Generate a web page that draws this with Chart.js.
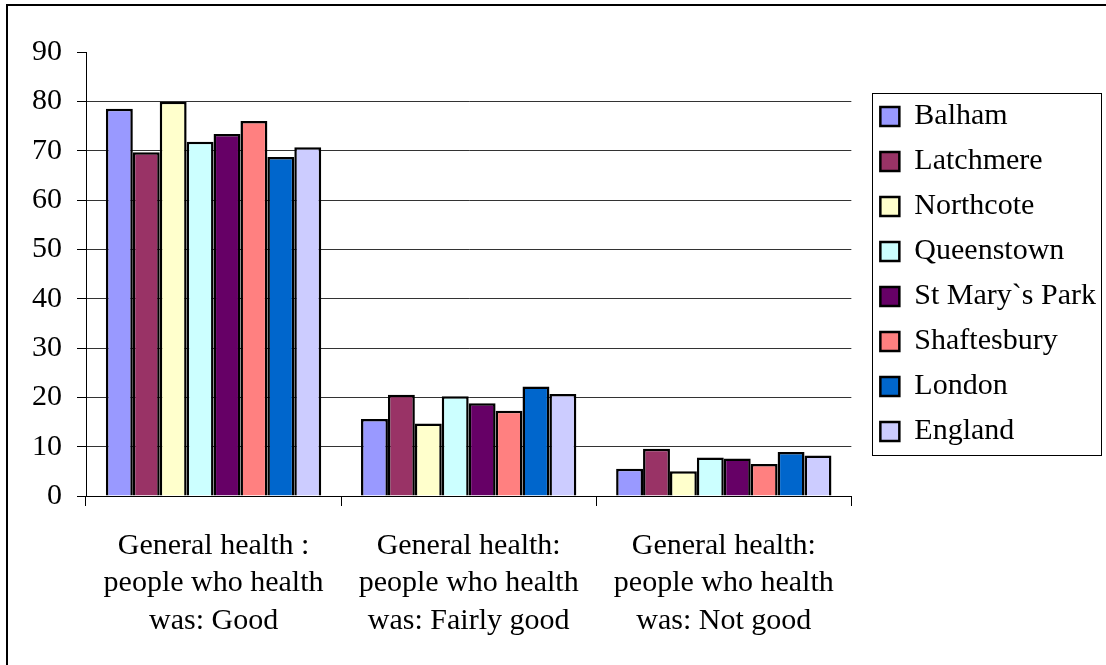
<!DOCTYPE html>
<html>
<head>
<meta charset="utf-8">
<title>General health by ward</title>
<script src="https://cdn.jsdelivr.net/npm/chart.js@4.4.1/dist/chart.umd.min.js"></script>
<style>
    html, body { margin: 0; padding: 0; background: #fff; overflow: hidden; }
    #health-chart { display: block; }
</style>
</head>
<body>
<canvas id="health-chart" width="1106" height="665"></canvas>
<script>
const categories = [
    ["General health :", "people who health", "was: Good"],
    ["General health:", "people who health", "was: Fairly good"],
    ["General health:", "people who health", "was: Not good"]
];

const wards = ["Balham", "Latchmere", "Northcote", "Queenstown", "St Mary`s Park", "Shaftesbury", "London", "England"];

const balham      = [78.5, 15.6, 5.5];
const latchmere   = [69.7, 20.5, 9.6];
const northcote   = [79.9, 14.7, 5.0];
const queenstown  = [71.8, 20.2, 7.8];
const stMarysPark = [73.4, 18.8, 7.6];
const shaftesbury = [76.0, 17.3, 6.5];
const london      = [68.7, 22.2, 8.9];
const england     = [70.7, 20.7, 8.2];

const yTicks = [0, 10, 20, 30, 40, 50, 60, 70, 80, 90];

const COLORS = ['#9999FF', '#993366', '#FFFFCC', '#CCFFFF', '#660066', '#FF8080', '#0066CC', '#CCCCFF'];
const FONT = "'Liberation Serif', 'Times New Roman', serif";

const seriesValues = [balham, latchmere, northcote, queenstown, stMarysPark, shaftesbury, london, england];

const datasets = wards.map((name, i) => ({
    label: name,
    data: seriesValues[i],
    backgroundColor: COLORS[i],
    borderColor: '#000',
    borderWidth: 2.5,
    categoryPercentage: 0.844,
    barPercentage: 1.0
}));

const LEGEND_SHIFT = 14;

// frame round the whole picture (open to the right and bottom) and round the legend
const framePlugin = {
    id: 'frames',
    afterLayout(chart) {
        const lg = chart.legend;
        lg.left += LEGEND_SHIFT;
        lg.right += LEGEND_SHIFT;
    },
    afterDraw(chart) {
        const ctx = chart.ctx;
        const lg = chart.legend;
        const pad = lg.options.labels.padding;
        const col = lg.columnSizes[0];
        const itemsX = lg.left + pad;
        const itemsTop = (lg.top + pad + lg.bottom - col.height) / 2;

        ctx.save();
        ctx.strokeStyle = '#000';
        ctx.lineWidth = 1;
        ctx.strokeRect(Math.round(itemsX - 8) + 0.5, Math.round(itemsTop - 8.5) + 0.5,
            Math.round(col.width + 13), Math.round(col.height + 2));

        ctx.lineWidth = 2;
        ctx.beginPath();
        ctx.moveTo(7, chart.height + 5);
        ctx.lineTo(7, 5);
        ctx.lineTo(chart.width + 5, 5);
        ctx.stroke();
        ctx.restore();
    }
};

new Chart(document.getElementById('health-chart'), {
    type: 'bar',
    data: { labels: categories, datasets },
    plugins: [framePlugin],
    options: {
        responsive: false,
        animation: false,
        layout: { padding: { left: 17, top: 52, right: 14, bottom: 4.5 } },
        plugins: {
            legend: {
                position: 'right',
                fullSize: false,
                labels: {
                    color: '#000',
                    font: { family: FONT, size: 30 },
                    boxWidth: 19,
                    boxHeight: 19,
                    padding: 15
                }
            },
            tooltip: { enabled: false }
        },
        scales: {
            x: {
                offset: true,
                grid: {
                    offset: true,
                    drawOnChartArea: false,
                    color: '#000',
                    tickLength: 10
                },
                border: { display: true, color: '#000', width: 1 },
                ticks: {
                    color: '#000',
                    padding: 21,
                    maxRotation: 0,
                    font: { family: FONT, size: 30, lineHeight: 1.25 }
                }
            },
            y: {
                min: 0,
                max: 90,
                afterBuildTicks(scale) {
                    scale.ticks = yTicks.map(v => ({ value: v }));
                },
                grid: {
                    color: ctx => (ctx.tick && ctx.tick.value === 90) ? 'rgba(0,0,0,0)' : '#333',
                    tickColor: '#000',
                    tickLength: 9
                },
                border: { display: true, color: '#000', width: 1 },
                ticks: {
                    color: '#000',
                    padding: 15,
                    font: { family: FONT, size: 30 }
                }
            }
        }
    }
});
</script>
</body>
</html>
